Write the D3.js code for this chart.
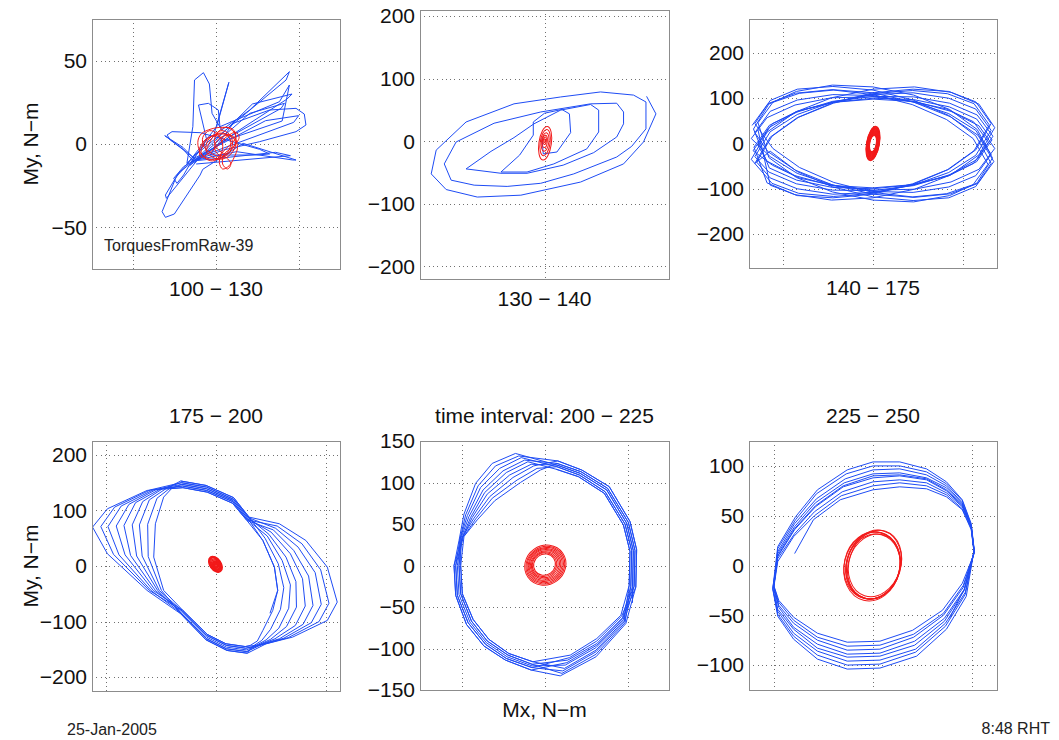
<!DOCTYPE html>
<html>
<head>
<meta charset="utf-8">
<script src="https://cdn.jsdelivr.net/npm/d3@7"></script>
<style>
  body { margin: 0; background: #fff; }
  svg { display: block; font-family: "Liberation Sans", Arial, Helvetica, sans-serif; }
</style>
</head>
<body>
<svg id="fig" width="1059" height="740"></svg>
<script>
// ---------------------------------------------------------------
// Torque phase portraits (My vs Mx) for six time intervals.
// Blue: measured torque trajectory, red: residual trajectory.
// ---------------------------------------------------------------

const intervalLabels = ["100 − 130", "130 − 140", "140 − 175", "175 − 200", "time interval: 200 − 225", "225 − 250"];
const yAxisLabel = "My, N−m";
const xAxisLabel = "Mx, N−m";
const runLabel = "TorquesFromRaw-39";
const dateLabel = "25-Jan-2005";
const timeLabel = "8:48 RHT";

// axis limits and tick values per interval
const xLimits = [[-75, 75], [-200, 200], [-275, 275], [-225, 225], [-150, 150], [-125, 125]];
const yLimits = [[-75, 75], [-220, 210], [-275, 275], [-225, 225], [-150, 150], [-125, 125]];
const xTickValues = [[-50, 0, 50], [-200, 0, 200], [-200, 0, 200], [-200, 0, 200], [-100, 0, 100], [-100, 0, 100]];
const yTickValues = [
  [-50, 0, 50],
  [-200, -100, 0, 100, 200],
  [-200, -100, 0, 100, 200],
  [-200, -100, 0, 100, 200],
  [-150, -100, -50, 0, 50, 100, 150],
  [-100, -50, 0, 50, 100]
];

// interval 100-130: [Mx, My]
const torque1 = [
  [-15.6,-9.6],[0.4,10.4],[7.8,37],[-1.6,4.4],[-17.6,-11.6],[-14,10.4],[-13,38.4],[-7.6,42.8],[-4,36],[-2.4,18.4],
  [3.4,8.4],[20.4,20.4],[44.4,43.4],[42.4,38.4],[8.4,10.4],[-13.6,-7.6],[-20.6,-15.6],[-24.6,-20.6],[-30.6,-30.6],[-30,-32.6],
  [-9.6,-7.6],[20.4,18.4],[41.4,24.4],[39.4,21.4],[8.4,4.4],[-15.6,-11.6],[-23.6,-18.6],[-32.6,-40.6],[-30.6,-44],[-25.2,-42],
  [-9.6,-18.6],[-8,-15.2],[16.4,0.4],[48.4,-9.6],[46.4,-9.6],[12.4,-4.6],[-11.6,-9.6],[-27.6,2.4],[-29.6,5.4],[-26.6,7.4],
  [-9.6,6.8],[6.4,2.4],[26.4,-3.2],[32.4,-6],[24.4,-6.6],[-3.6,-6.6],[10.4,12.4],[32.4,20.4],[48.4,21.4],[53.4,18],
  [54.4,11.4],[48.4,7.4],[26.4,1.4],[4.4,-3.6],[-14.6,-10.6],[-5.6,2.4],[-10.6,23.4],[-4.6,24.4],[1.4,20.4],[2.4,10.4],
  [38.4,25.4],[44.4,35.4],[40,13.8],[6.4,2.4],[-19.6,-13.6],[-25.6,-20.6],[-23.6,-23.6],[-19.6,-18.6],
  [-14,-9],[30,14],[50,17],[47,13],[-8,-7],[-16,-13],[22,24],[46,30],[43,27],[12,7],[-13,-11],[-20,-3],
  [-31,5],[-20,-2],[-12,-10],[36,-5],[45,-7],[-12,-12]
];
const residual1 = [
  [-6,-4],[-2,4],[3,8],[8,6],[10,0],[7,-6],[2,-4],[-1,2],[2,8],[6,10],[11,7],[12,1],[9,-4],[4,-8],[-2,-6],
  [-7,-2],[-8,4],[-4,8],[1,6],[4,0],[3,-6],[-1,-10],[-6,-9],[-9,-5],[-7,1],[-2,5],[5,6],[11,4],[13,-2],[11,-8],
  [8,-13],[4,-15],[2,-11],[4,-5],[8,-1],[12,4],[10,9],[4,10],[-3,9],[-9,6],[-11,1],[-9,-6],[-4,-9],[2,-9],[7,-5],
  [9,1],[6,6],[0,6],[-5,2],[-6,-4],[-2,-8],[4,-9],[9,-6],[12,0],[9,5],[3,4],[-1,-1],[1,-6],[6,-8],[9,-12],
  [7,-15],[4,-12],[5,-6],[10,-2],[14,4],[12,7],[6,4],[0,-2],[-5,-6],[-9,-8],[-10,-3],[-6,3],[0,5],[6,2]
];

// interval 130-140
const torque2 = [
  [164,72],[179,44],[159,-1],[127,-36],[58,-65],[-38,-86],[-108,-89],[-158,-77],[-182,-52],[-174,-14],[-126,31],[-49,60],
  [26,71],[90,79],[143,74],[163,63],[163,20],[140,-8],[116,-25],[47,-52],[-6,-67],[-60,-72],[-113,-70],[-150,-62],
  [-161,-36],[-142,-1],[-81,29],[-6,47],[74,60],[116,61],[127,47],[127,28],[116,7],[79,-18],[30,-38],[-28,-51],
  [-70,-51],[-126,-44],[-86,-16],[-49,6],[-17,28],[26,50],[74,59],[87,50],[87,15],[68,-12],[15,-36],[-28,-49],
  [-70,-49],[-40,-22],[-18,10],[-18,31],[0,45],[28,51],[40,44],[42,14],[20,-17],[-2,-20],[-4,6]
];
// residual loops: [centre x, centre y, half-width, half-height, tilt deg]
const residual2 = [[1,-3,10,27,-8],[1,-2,8,21,-8],[1,-1,6,15,-8],[0.5,0,4,10,-6],[0.5,1,2.5,6,-6],[0.5,1,1.2,3,-5]];

// interval 140-175
const torque3 = [
  [-268,40],[-233,88],[-172,111],[-91,119],[0,112],[91,91],[172,59],[233,18],[268,-40],[233,-88],[172,-111],[91,-119],[0,-112],[-91,-91],[-172,-59],[-233,-18],
  [-262,24],[-228,71],[-168,96],[-89,108],[0,106],[89,92],[168,66],[228,29],[262,-24],[228,-71],[168,-96],[89,-108],[0,-106],[-89,-92],[-168,-66],[-228,-29],
  [-270,11],[-235,57],[-173,85],[-92,101],[0,103],[92,93],[173,71],[235,39],[270,-11],[235,-57],[173,-85],[92,-101],[0,-103],[-92,-93],[-173,-71],[-235,-39],
  [-256,-3],[-223,44],[-164,72],[-87,91],[0,98],[87,93],[164,76],[223,48],[256,3],[223,-44],[164,-72],[87,-91],[0,-98],[-87,-93],[-164,-76],[-223,-48],
  [-266,-16],[-231,35],[-170,69],[-90,93],[0,104],[90,103],[170,89],[231,63],[266,16],[231,-35],[170,-69],[90,-93],[0,-104],[-90,-103],[-170,-89],[-231,-63],
  [-262,-29],[-228,26],[-168,64],[-89,92],[0,108],[89,112],[168,100],[228,76],[262,29],[228,-26],[168,-64],[89,-92],[0,-108],[-89,-112],[-168,-100],[-228,-76],
  [-258,-41],[-224,16],[-165,58],[-88,89],[0,110],[88,117],[165,110],[224,88],[258,41],[224,-16],[165,-58],[88,-89],[0,-110],[-88,-117],[-165,-110],[-224,-88],
  [-270,-35],[-235,25],[-173,69],[-92,101],[0,120],[92,125],[173,113],[235,87],[270,35],[235,-25],[173,-69],[92,-101],[0,-120],[-92,-125],[-173,-113],[-235,-87],
  [-264,-8],[-230,40],[-169,71],[-90,91],[0,100],[90,97],[169,81],[230,54],[264,8],[230,-40],[169,-71],[90,-91],[0,-100],[-90,-97],[-169,-81],[-230,-54],
  [-265,32],[-231,87],[-170,115],[-90,129],[0,125],[90,107],[170,75],[231,31],[265,-32],[231,-87],[170,-115],[90,-129],[0,-125],[-90,-107],[-170,-75],[-231,-31],
  [-255,46],[-222,91],[-163,111],[-87,118],[0,108],[87,86],[163,53],[222,11],[255,-46],[222,-91],[163,-111],[87,-118],[0,-108],[-87,-86],[-163,-53],[-222,-11],
  [-262,44],[-228,95],[-168,120],[-89,126],[0,118],[89,96],[168,62],[228,17],[262,-44],[228,-95],[168,-120],[89,-126],[0,-118],[-89,-96],[-168,-62],[-228,-17],
  [-262,-44],[-228,14],[-168,57],[-89,90],[0,112],[89,120],[168,115],[228,92],[262,44],[228,-14],[168,-57],[89,-90],[0,-112],[-89,-120],[-168,-115],[-228,-92],
  [-255,30]
];
const residual3 = [
  [0,0,14,38,-10],[0,0,13.5,36.5,-10],[0,0,13,35,-10],[0,0,12.5,33.5,-10],[0,0,12,32,-10],[0,0,11.5,30.5,-10],
  [0,0,11,29,-10],[0,0,10.5,27.5,-10],[0,0,10,26,-10],[0,0,9.5,24.5,-10],[0,0,9,23,-10],[0,0,8.5,21.5,-10],
  [0,0,8,20,-10],[0,0,7.5,18.5,-10]
];

// interval 175-200
const torque4 = [
  [-64,153],[-18,145],[32,123],[60,88],[115,76],[163,46],[202,-2],[220,-65],[202,-98],[139,-128],[91,-140],[57,-157],[20,-152],[-18,-133],[-64,-86],[-125,-44],[-197,22],[-224,70],[-197,103],[-125,136],
  [-61,144],[-17,136],[30,116],[57,83],[111,72],[156,40],[190,-7],[205,-67],[187,-100],[131,-129],[87,-141],[54,-148],[19,-143],[-17,-125],[-61,-81],[-121,-44],[-186,21],[-209,71],[-184,106],[-119,137],
  [-63,150],[-17,142],[32,120],[59,87],[108,68],[149,34],[180,-12],[191,-69],[173,-102],[123,-130],[84,-141],[56,-154],[19,-149],[-17,-131],[-63,-85],[-118,-44],[-176,20],[-196,71],[-172,108],[-114,137],
  [-60,141],[-16,133],[30,113],[56,82],[104,65],[141,28],[168,-18],[176,-71],[158,-105],[115,-131],[80,-142],[53,-145],[18,-140],[-16,-123],[-60,-80],[-114,-44],[-165,20],[-181,72],[-158,111],[-108,138],
  [-62,147],[-17,139],[31,118],[58,85],[100,61],[135,22],[157,-23],[162,-72],[144,-107],[107,-131],[77,-143],[55,-151],[19,-146],[-17,-128],[-62,-83],[-110,-44],[-155,19],[-167,73],[-146,114],[-102,138],
  [-63,150],[-17,142],[32,120],[59,87],[96,57],[127,16],[145,-28],[146,-74],[128,-109],[99,-132],[73,-144],[56,-154],[19,-149],[-17,-131],[-63,-85],[-106,-44],[-144,18],[-152,74],[-133,116],[-97,139],
  [-61,144],[-17,136],[30,116],[57,83],[93,54],[120,10],[135,-34],[132,-76],[114,-112],[91,-133],[69,-145],[54,-148],[19,-143],[-17,-125],[-61,-81],[-103,-44],[-134,18],[-139,74],[-121,119],[-91,139],
  [-64,153],[-18,145],[32,123],[60,88],[89,50],[113,4],[123,-39],[117,-78],[99,-114],[83,-134],[66,-145],[57,-157],[20,-152],[-18,-133],[-64,-86],[-99,-44],[-123,17],[-124,75],[-107,122],[-85,139],
  [-60,141],[-16,133],[30,113],[56,82],[85,46],[106,-2],[112,-44],[103,-80],[85,-116],[75,-135],[62,-143],[53,-145],[18,-140],[-16,-123],[-60,-80],[-95,-44],[-113,16],[-110,76],[-95,124],[-80,140],
  [-62,147],[-17,139],[31,118],[58,85],[85,46],[106,-2],[112,-44],[98,-85]
];
const residual4 = [
  [-1,3,16,10,-55],[-1,3,15,9.5,-55],[-1,3,14,9,-55],[-2,4,13,8.5,-57],[-2,4,12,8,-58],[-1,3,11,7.5,-55],
  [0,2,10,7,-52],[0,1,9,6.5,-50],[1,0,8,6,-50],[0,1,7,5,-52],[-1,2,6,4,-55],[0,1,5,3.5,-55],
  [0,1,4,3,-55],[0,1,3,2.5,-55],[0,1,2,1.5,-55]
];

// interval 200-225
const torque5 = [
  [14,116],[41,107],[72,87],[95,49],[103,17],[102,-24],[92,-60],[63,-88],[31,-108],[-14,-116],[-43,-106],[-67,-89],[-86,-65],[-99,-34],[-101,0],[-97,35],[-81,55],[-60,78],[-29,100],[-5,115],
  [15,123],[44,113],[76,93],[101,52],[109,18],[108,-25],[93,-61],[63,-91],[30,-111],[-15,-123],[-46,-112],[-71,-95],[-92,-69],[-105,-36],[-107,0],[-98,34],[-83,56],[-63,81],[-33,103],[-9,117],
  [15,119],[42,109],[73,89],[97,50],[105,18],[104,-25],[94,-63],[63,-94],[28,-114],[-15,-119],[-44,-108],[-69,-91],[-88,-67],[-101,-34],[-103,0],[-99,34],[-85,57],[-66,83],[-38,106],[-13,120],
  [16,126],[45,115],[78,95],[103,53],[111,19],[110,-26],[94,-64],[63,-96],[27,-117],[-16,-126],[-47,-114],[-73,-97],[-94,-71],[-107,-36],[-109,0],[-99,33],[-87,58],[-69,86],[-42,109],[-16,122],
  [15,121],[43,111],[75,91],[99,51],[107,18],[106,-25],[95,-65],[62,-99],[25,-120],[-15,-121],[-45,-110],[-70,-93],[-90,-68],[-103,-35],[-105,0],[-100,32],[-89,58],[-72,88],[-46,112],[-20,125],
  [14,116],[41,107],[72,87],[95,49],[103,17],[102,-24],[96,-66],[62,-102],[24,-124],[-14,-116],[-43,-106],[-67,-89],[-86,-65],[-99,-34],[-101,0],[-101,32],[-91,59],[-74,91],[-50,114],[-24,127],
  [15,123],[44,113],[76,93],[101,52],[109,18],[108,-25],[96,-68],[62,-104],[22,-127],[-15,-123],[-46,-112],[-71,-95],[-92,-69],[-105,-36],[-107,0],[-102,31],[-93,60],[-77,94],[-54,117],[-28,130],
  [15,119],[42,109],[73,89],[97,50],[105,18],[104,-25],[97,-69],[62,-107],[21,-130],[-15,-119],[-44,-108],[-69,-91],[-88,-67],[-101,-34],[-103,0],[-102,31],[-95,61],[-80,96],[-59,120],[-31,132],
  [16,126],[45,115],[78,95],[103,53],[111,19],[110,-26],[98,-70],[62,-110],[19,-133],[-16,-126],[-47,-114],[-73,-97],[-94,-71],[-107,-36],[-109,0],[-103,30],[-97,62],[-83,99],[-63,123],[-35,135],
  [15,121],[43,111],[75,91],[99,51],[107,18],[106,-45]
];
const residual5 = [[0,1,13.5,12.5,35],[0,1,15,14,35],[0.3,0.9,16.5,15.2,35],[0.5,0.8,18,16.6,35],[0.6,0.7,19.5,18,35],[0.8,0.6,21,19.3,35],[0.9,0.5,22.5,20.7,35],[1,0.5,24,22,35],[1,0.4,25.5,23.5,35]];

// interval 225-250
const torque6 = [
  [-79,12],[-60,46],[-33,66],[0,76],[27,79],[54,77],[74,69],[90,56],[99,36],[102,12],[90,-18],[70,-45],[40,-65],[7,-76],[-26,-77],[-56,-68],[-80,-52],[-95,-35],[-100,-20],
  [-96,7],[-79,32],[-59,54],[-31,74],[0,84],[27,86],[54,83],[74,73],[90,59],[99,38],[102,13],[91,-22],[71,-50],[41,-72],[7,-84],[-26,-85],[-56,-75],[-80,-58],[-95,-40],[-100,-21],
  [-96,12],[-79,39],[-58,63],[-29,83],[0,92],[27,93],[54,88],[74,78],[90,62],[99,39],[102,14],[92,-25],[72,-56],[42,-80],[7,-91],[-26,-92],[-56,-83],[-80,-64],[-96,-44],[-100,-22],
  [-96,17],[-78,46],[-57,72],[-27,92],[0,100],[27,100],[54,94],[74,82],[90,65],[99,41],[102,15],[93,-29],[73,-61],[43,-87],[7,-99],[-26,-100],[-56,-90],[-80,-71],[-96,-49],[-101,-23],
  [-96,19],[-78,49],[-56,76],[-26,96],[0,104],[27,104],[54,97],[74,84],[90,66],[99,42],[102,16],[94,-31],[74,-64],[44,-91],[7,-103],[-26,-104],[-56,-94],[-80,-74],[-96,-51],[-101,-24],
  [-96,14],[-79,42],[-57,67],[-28,87],[0,96],[27,97],[54,91],[74,80],[90,63],[99,40],[102,15],[93,-27],[73,-58],[43,-84],[7,-95],[-26,-96],[-56,-86],[-80,-68],[-96,-46],[-101,-23],
  [-96,9],[-79,36],[-58,59],[-30,79],[0,88],[27,90],[54,86],[74,75],[90,60],[99,39],[102,14],[92,-24],[72,-53],[42,-76],[7,-88],[-26,-89],[-56,-79],[-80,-62],[-95,-42],[-100,-22],
  [-96,4],[-80,29],[-59,50],[-32,70],[0,80],[27,83],[54,80],[74,71],[90,57],[99,37],[102,13],[91,-20],[71,-48],[41,-69],[7,-80],[-26,-81],[-56,-72],[-80,-55],[-95,-37],[-100,-21],
  [-96,10],[-79,37],[-58,60],[-30,80],[0,90],[27,91],[54,87],[74,76],[90,61],[99,39],[102,14],[92,-24],[77,-53]
];
const residual6 = [[2,2,26,34,-18],[1,1,27,35,-16],[0,0,27,34,-15],[-1,-1,28,35,-14],[0,-1,27,33,-15],[1,-1,26,33,-17],[-1,0,28,34,-13]];

const torques = [torque1, torque2, torque3, torque4, torque5, torque6];
const residualLoops = [null, residual2, residual3, residual4, residual5, residual6];

// ---------------------------------------------------------------
// layout of the six axes boxes (pixels)
const boxes = [
  { x0: 92,  x1: 340, y0: 19,  y1: 269 },
  { x0: 420, x1: 669, y0: 10,  y1: 279 },
  { x0: 749, x1: 997, y0: 19,  y1: 268 },
  { x0: 92,  x1: 340, y0: 441, y1: 691 },
  { x0: 420, x1: 669, y0: 441, y1: 690 },
  { x0: 749, x1: 997, y0: 441, y1: 690 }
];

const BLUE = "#1e4cf5";
const RED = "#f21a1a";
const TEXT = "#111";
const FONT = 21;

const svg = d3.select("#fig");
const defs = svg.append("defs");

boxes.forEach((b, i) => {
  const x = d3.scaleLinear().domain(xLimits[i]).range([b.x0, b.x1]);
  const y = d3.scaleLinear().domain(yLimits[i]).range([b.y1, b.y0]);
  const g = svg.append("g");

  defs.append("clipPath").attr("id", "clip" + i)
    .append("rect").attr("x", b.x0).attr("y", b.y0)
    .attr("width", b.x1 - b.x0).attr("height", b.y1 - b.y0);

  // dotted grid
  const grid = g.append("g").attr("stroke", "#707070").attr("stroke-width", 1)
    .attr("stroke-dasharray", "1,3.3").attr("shape-rendering", "crispEdges");
  grid.selectAll("line.v").data(xTickValues[i]).join("line").attr("class", "v")
    .attr("x1", d => Math.round(x(d)) + 0.5).attr("x2", d => Math.round(x(d)) + 0.5)
    .attr("y1", b.y0).attr("y2", b.y1);
  grid.selectAll("line.h").data(yTickValues[i]).join("line").attr("class", "h")
    .attr("y1", d => Math.round(y(d)) + 0.5).attr("y2", d => Math.round(y(d)) + 0.5)
    .attr("x1", b.x0).attr("x2", b.x1);

  const plot = g.append("g").attr("clip-path", `url(#clip${i})`);

  // torque trajectory
  const line = d3.line().x(d => x(d[0])).y(d => y(d[1]));
  plot.append("path").datum(torques[i]).attr("d", line)
    .attr("fill", "none").attr("stroke", BLUE).attr("stroke-width", 1)
    .attr("stroke-linejoin", "round");

  // residual trajectory
  if (i === 0) {
    const curvy = d3.line().x(d => x(d[0])).y(d => y(d[1])).curve(d3.curveCatmullRom.alpha(0.5));
    plot.append("path").datum(residual1).attr("d", curvy)
      .attr("fill", "none").attr("stroke", RED).attr("stroke-width", 1);
  } else {
    plot.append("g").selectAll("ellipse").data(residualLoops[i]).join("ellipse")
      .attr("cx", d => x(d[0])).attr("cy", d => y(d[1]))
      .attr("rx", d => x(d[2]) - x(0)).attr("ry", d => y(0) - y(d[3]))
      .attr("transform", d => `rotate(${-d[4]},${x(d[0])},${y(d[1])})`)
      .attr("fill", "none").attr("stroke", RED).attr("stroke-width", i === 2 || i === 3 ? 1.3 : 1);
  }

  // axes box
  g.append("rect").attr("x", b.x0 + 0.5).attr("y", b.y0 + 0.5)
    .attr("width", b.x1 - b.x0).attr("height", b.y1 - b.y0)
    .attr("fill", "none").attr("stroke", "#8c8c8c").attr("stroke-width", 1)
    .attr("shape-rendering", "crispEdges");

  // y tick labels
  const ax = g.append("g").attr("transform", `translate(${b.x0},0)`)
    .call(d3.axisLeft(y).tickValues(yTickValues[i]).tickSize(0).tickPadding(5).tickFormat(d3.format("d")));
  ax.select(".domain").remove();
  ax.selectAll("text").attr("font-size", FONT).attr("fill", TEXT)
    .attr("font-family", "Liberation Sans, Arial, sans-serif");

  // interval label: below the box on the top row, above it on the bottom row
  const cx = (b.x0 + b.x1) / 2;
  g.append("text").attr("x", cx).attr("y", i < 3 ? b.y1 + 27 : b.y0 - 18)
    .attr("text-anchor", "middle").attr("font-size", FONT).attr("fill", TEXT)
    .text(intervalLabels[i]);
});

// axis titles
[boxes[0], boxes[3]].forEach(b => {
  const cy = (b.y0 + b.y1) / 2;
  svg.append("text").attr("transform", `translate(38,${cy}) rotate(-90)`)
    .attr("text-anchor", "middle").attr("font-size", FONT).attr("fill", TEXT).text(yAxisLabel);
});
svg.append("text").attr("x", (boxes[4].x0 + boxes[4].x1) / 2).attr("y", 717)
  .attr("text-anchor", "middle").attr("font-size", FONT).attr("fill", TEXT).text(xAxisLabel);

// annotations
svg.append("text").attr("x", 104).attr("y", 251).attr("font-size", 16).attr("fill", "#222").text(runLabel);
svg.append("text").attr("x", 67).attr("y", 735).attr("font-size", 16).attr("fill", "#222").text(dateLabel);
svg.append("text").attr("x", 1050).attr("y", 734).attr("text-anchor", "end").attr("font-size", 16).attr("fill", "#222").text(timeLabel);
</script>
</body>
</html>
